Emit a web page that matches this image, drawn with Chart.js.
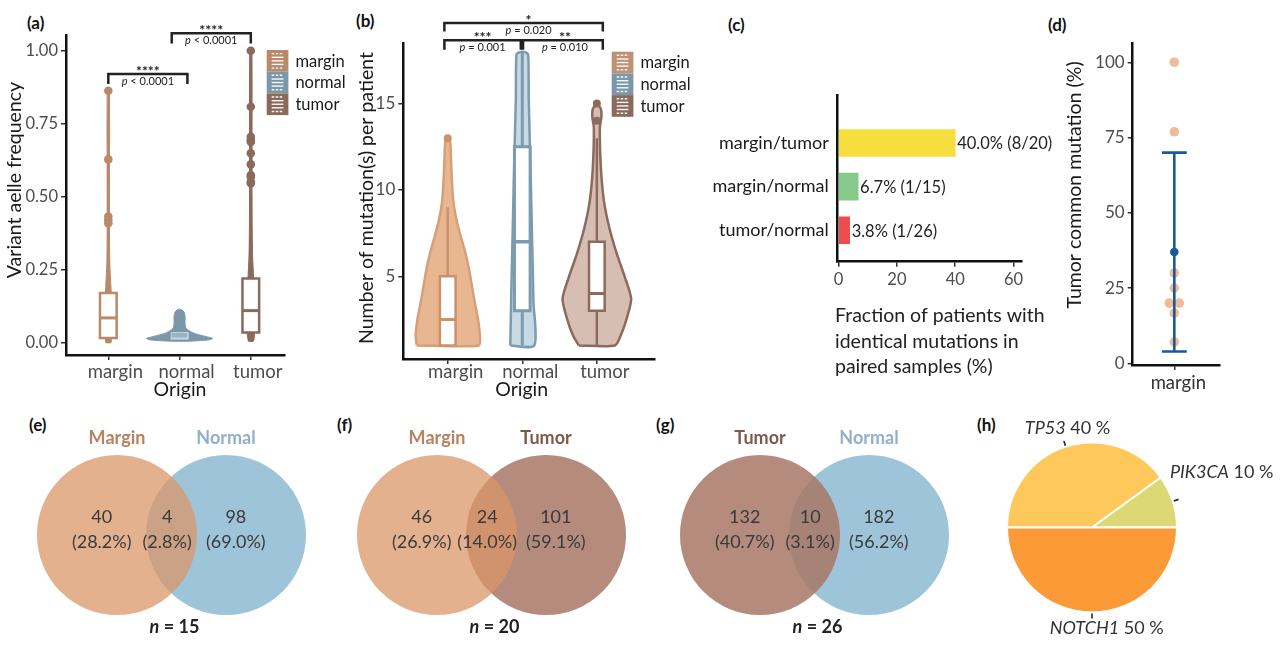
<!DOCTYPE html>
<html>
<head>
<meta charset="utf-8">
<script src="https://cdn.jsdelivr.net/npm/chart.js@4.4.1/dist/chart.umd.min.js"></script>
<style>
  html, body { margin: 0; padding: 0; background: #fff; }
  body { width: 1280px; height: 645px; position: relative; overflow: hidden; font-family: Lato, sans-serif; }
  canvas { position: absolute; }
  .lab { position: absolute; font: bold 17px Lato, sans-serif; line-height: 20px; color: #111; }
</style>
</head>
<body>
<div class="lab" style="left:27px;top:13px">(a)</div>
<div class="lab" style="left:356px;top:11px">(b)</div>
<div class="lab" style="left:728px;top:15px">(c)</div>
<div class="lab" style="left:1048px;top:15px">(d)</div>
<div class="lab" style="left:29px;top:415px">(e)</div>
<div class="lab" style="left:337px;top:415px">(f)</div>
<div class="lab" style="left:656px;top:415px">(g)</div>
<div class="lab" style="left:977px;top:415px">(h)</div>

<canvas id="cA" width="360" height="405" style="left:0;top:0"></canvas>
<canvas id="cB" width="380" height="405" style="left:330px;top:0"></canvas>
<canvas id="cC" width="360" height="405" style="left:710px;top:0"></canvas>
<canvas id="cD" width="240" height="405" style="left:1040px;top:0"></canvas>
<canvas id="cE" width="320" height="235" style="left:0;top:410px"></canvas>
<canvas id="cF" width="320" height="235" style="left:320px;top:410px"></canvas>
<canvas id="cG" width="320" height="235" style="left:643px;top:410px"></canvas>
<canvas id="cH" width="320" height="235" style="left:960px;top:410px"></canvas>

<script>
const groups = ["margin", "normal", "tumor"];

// (a) variant allele frequency: [low whisker, q1, median, q3, high whisker]
const vafBox = [[0.003, 0.016, 0.085, 0.17, 0.40], [0.006, 0.012, 0.016, 0.035, 0.07], [0.005, 0.035, 0.11, 0.22, 0.50]];
const vafOutliers = [
  [0.863, 0.628, 0.432, 0.42, 0.409],
  [],
  [1.0, 0.808, 0.705, 0.694, 0.688, 0.649, 0.611, 0.574, 0.568, 0.551, 0.546]
];
// violin outline: [value, half width in group units]
const vafViolin = [
  [[0, 0.035], [0.015, 0.045], [0.1, 0.055], [0.2, 0.035], [0.27, 0.021], [0.4, 0.016], [0.855, 0.016], [0.862, 0]],
  [[0.005, 0.1], [0.007, 0.27], [0.01, 0.42], [0.015, 0.465], [0.02, 0.39], [0.026, 0.295], [0.032, 0.21], [0.038, 0.155], [0.045, 0.11], [0.053, 0.085], [0.065, 0.077], [0.09, 0.077], [0.105, 0.063], [0.112, 0.035], [0.115, 0]],
  [[0.005, 0.035], [0.03, 0.05], [0.12, 0.056], [0.22, 0.04], [0.3, 0.025], [0.45, 0.018], [0.995, 0.016], [1.0, 0]]
];
const vafSig = [
  {from: 1, to: 2.11, y: 0.92, tip: 0.886, stars: "****", p: "< 0.0001"},
  {from: 1.89, to: 3, y: 1.06, tip: 1.025, stars: "****", p: "< 0.0001"}
];

// (b) mutations per patient
const mutBox = [[1, 1, 2.5, 5, 9], [1, 3, 7, 12.5, 18], [1, 3, 4, 7, 13]];
const mutOutliers = [[13], [], [14, 15]];
const mutViolin = [
  [[1, 0.416], [1.6, 0.43], [2.6, 0.403], [3.5, 0.362], [4.5, 0.322], [5.5, 0.282], [6.5, 0.228], [7.4, 0.168], [8.4, 0.111], [9.4, 0.074], [11, 0.051], [12.5, 0.038], [12.9, 0.027], [13, 0]],
  [[1, 0.161], [3.5, 0.15], [7.4, 0.13], [11.3, 0.11], [15.2, 0.087], [17.8, 0.08], [17.95, 0.054], [18, 0]],
  [[1, 0.242], [1.6, 0.322], [2.6, 0.403], [3.7, 0.46], [4.9, 0.38], [6.3, 0.268], [7.8, 0.168], [9.4, 0.094], [11.3, 0.054], [13.6, 0.04], [14.2, 0.06], [14.7, 0.054], [15, 0]]
];
const mutSig = [
  {from: 0.955, to: 3.08, y: 19.66, tip: 19.18, stars: "*", p: "= 0.020", dx: 5},
  {from: 0.955, to: 1.98, y: 18.66, tip: 18.12, stars: "***", p: "= 0.001"},
  {from: 2.01, to: 3.08, y: 18.66, tip: 18.12, stars: "**", p: "= 0.010", dx: 2}
];

// (c) shared mutations between paired samples
const pairs = ["margin/tumor", "margin/normal", "tumor/normal"];
const pairPct = [40.0, 6.7, 3.8];
const pairShared = [8, 1, 1];
const pairTotal = [20, 15, 26];

// (d) tumor common mutation per patient (%)
const commonPct = [100, 76.9, 30, 25, 20, 20, 16.7, 7.1];
const commonJitter = [0, 0, 0, 0, -0.06, 0.06, 0, 0];

// (e)-(g) Venn counts: [only first, shared, only second]
const vennSets = [["Margin", "Normal"], ["Margin", "Tumor"], ["Tumor", "Normal"]];
const vennCounts = [[40, 4, 98], [46, 24, 101], [132, 10, 182]];
const vennN = [15, 20, 26];

// (h) genes
const genes = ["TP53", "PIK3CA", "NOTCH1"];
const geneShare = [40, 10, 50];

Chart.defaults.font.family = "Lato, sans-serif";
Chart.defaults.animation = false;
Chart.defaults.events = [];
Chart.defaults.plugins.legend.display = false;
Chart.defaults.plugins.tooltip.enabled = false;

const INK = "#1a1a1a", GREY = "#4d4d4d";

function linAxis(o) {
  return {
    type: "linear", min: o.min, max: o.max, reverse: !!o.reverse, offset: false,
    afterBuildTicks: s => { s.ticks = o.ticks.map(v => ({value: v})); },
    afterFit: s => { if (o.w != null) s.width = o.w; if (o.h != null) s.height = o.h; },
    ticks: {callback: o.fmt, color: o.color || GREY, font: {size: o.size || 16.5}, padding: o.pad != null ? o.pad : 3,
      labelOffset: o.off || 0, autoSkip: false, maxRotation: 0},
    grid: {drawOnChartArea: false, offset: false, drawTicks: !o.noTick, tickLength: o.noTick ? 0 : 5, color: "#333", lineWidth: 1.5},
    border: {display: true, color: "#111", width: 2.5}
  };
}

function mixedText(ctx, parts, cx, cy) {
  let w = 0;
  parts.forEach(([t, f]) => { ctx.font = f; w += ctx.measureText(t).width; });
  let xx = cx - w / 2;
  ctx.textAlign = "left";
  parts.forEach(([t, f]) => { ctx.font = f; ctx.fillText(t, xx, cy); xx += ctx.measureText(t).width; });
  ctx.textAlign = "center";
}

function vText(ctx, text, x, y, font) {
  ctx.save();
  ctx.translate(x, y);
  ctx.rotate(-Math.PI / 2);
  ctx.font = font;
  ctx.textAlign = "center";
  ctx.textBaseline = "middle";
  ctx.fillText(text, 0, 0);
  ctx.restore();
}

function violinDatasets(profiles, boxes, outliers, pal, boxHalf, ptR) {
  const out = [];
  profiles.forEach((prof, i) => {
    const c = i + 1, p = pal[i], b = boxes[i];
    const shape = prof.map(([v, w]) => ({x: c - w, y: v}))
      .concat(prof.slice().reverse().map(([v, w]) => ({x: c + w, y: v})));
    shape.push(shape[0]);
    out.push({data: shape, showLine: true, fill: "shape", backgroundColor: p.fill, borderColor: p.line,
      borderWidth: p.vw, pointRadius: 0, tension: 0.25, order: 4});
    out.push({data: [{x: c, y: b[0]}, {x: c, y: b[4]}], showLine: true, borderColor: p.wl || p.box,
      borderWidth: p.bw, pointRadius: 0, order: 3});
    out.push({data: [{x: c - boxHalf, y: b[1]}, {x: c - boxHalf, y: b[3]}, {x: c + boxHalf, y: b[3]},
      {x: c + boxHalf, y: b[1]}, {x: c - boxHalf, y: b[1]}], showLine: true, fill: "shape",
      backgroundColor: p.boxFill, borderColor: p.box, borderWidth: p.bw, borderJoinStyle: "miter",
      borderCapStyle: "square", pointRadius: 0, order: 2});
    out.push({data: [{x: c - boxHalf, y: b[2]}, {x: c + boxHalf, y: b[2]}], showLine: true,
      borderColor: p.box, borderWidth: p.bw + 0.5, pointRadius: 0, order: 1});
    out.push({data: outliers[i].map(v => ({x: c, y: v})), pointRadius: ptR, backgroundColor: p.box,
      borderWidth: 0, order: 0});
  });
  return out;
}

function drawLegend(ctx, x, y, colours) {
  const s = 21.7;
  groups.forEach((lab, i) => {
    const top = y + i * s;
    ctx.fillStyle = colours[i];
    ctx.fillRect(x, top, s, s);
    ctx.strokeStyle = "rgba(255,255,255,0.95)";
    ctx.lineWidth = 1.4;
    ctx.setLineDash([2.5, 1.5]);
    [3.6, s - 3.6].forEach(dy => {
      ctx.beginPath(); ctx.moveTo(x + 5, top + dy); ctx.lineTo(x + s - 5, top + dy); ctx.stroke();
    });
    ctx.setLineDash([]);
    [7.3, 10.85, 14.4].forEach(dy => {
      ctx.beginPath(); ctx.moveTo(x + 5, top + dy); ctx.lineTo(x + s - 5, top + dy); ctx.stroke();
    });
    ctx.fillStyle = INK;
    ctx.font = "16.5px Lato";
    ctx.textAlign = "left";
    ctx.textBaseline = "middle";
    ctx.fillText(lab, x + s + 7, top + s / 2 + 0.5);
  });
}

function violinDecor(o) {
  return {
    id: "violinDecor",
    afterDraw(chart) {
      const {ctx, scales: {x, y}} = chart;
      ctx.save();
      o.sig.forEach(s => {
        const x1 = x.getPixelForValue(s.from), x2 = x.getPixelForValue(s.to);
        const yb = y.getPixelForValue(s.y), yt = y.getPixelForValue(s.tip);
        ctx.strokeStyle = "#222";
        ctx.lineWidth = 2.5;
        ctx.lineJoin = "miter";
        ctx.beginPath();
        ctx.moveTo(x1, yt); ctx.lineTo(x1, yb); ctx.lineTo(x2, yb); ctx.lineTo(x2, yt);
        ctx.stroke();
        const xm = (x1 + x2) / 2 + (s.dx || 0);
        ctx.fillStyle = "#222";
        ctx.textAlign = "center";
        ctx.textBaseline = "alphabetic";
        ctx.font = "bold 14px Lato";
        ctx.fillText(s.stars, xm, yb + 2);
        ctx.textBaseline = "middle";
        mixedText(ctx, [["p", "italic 11px Lato"], [" " + s.p, "11px Lato"]], xm, yb + 7.5);
      });
      drawLegend(ctx, o.legendAt[0], o.legendAt[1], o.legendFill);
      ctx.fillStyle = INK;
      ctx.font = "19.5px Lato";
      ctx.textAlign = "center";
      ctx.textBaseline = "middle";
      ctx.fillText("Origin", o.xTitleAt[0], o.xTitleAt[1]);
      vText(ctx, o.yTitle, o.yTitleAt[0], o.yTitleAt[1], "19.5px Lato");
      ctx.restore();
    }
  };
}

// (a)
const palA = [
  {fill: "#b8896a", line: "#b8896a", vw: 1, box: "#b8896a", boxFill: "#fff", bw: 2.5},
  {fill: "#7a98aa", line: "#7a98aa", vw: 1, box: "rgba(205,218,226,0.85)", wl: "#7a98aa", boxFill: "rgba(255,255,255,0.25)", bw: 1},
  {fill: "#8b6a5c", line: "#8b6a5c", vw: 1, box: "#8b6a5c", boxFill: "#fff", bw: 2.5}
];
new Chart(document.getElementById("cA"), {
  type: "scatter",
  data: {datasets: violinDatasets(vafViolin, vafBox, vafOutliers, palA, 0.117, 4.3)},
  options: {
    responsive: false,
    layout: {padding: {left: 0, top: 35, right: 360 - 285, bottom: 0}},
    scales: {
      x: linAxis({min: 0.406, max: 3.48, ticks: [1, 2, 3], fmt: v => groups[v - 1], size: 18.5, pad: 1, off: 7, h: 405 - 355}),
      y: linAxis({min: -0.042, max: 1.054, ticks: [0, 0.25, 0.5, 0.75, 1], fmt: v => v.toFixed(2), w: 66})
    }
  },
  plugins: [violinDecor({sig: vafSig, legendAt: [266.7, 50], legendFill: ["#b8896a", "#7b98aa", "#8b6a5c"],
    xTitleAt: [180, 390], yTitle: "Variant aelle frequency", yTitleAt: [15, 180]})]
});

// (b)
const palB = [
  {fill: "#e8b690", line: "#d5a079", vw: 2.5, box: "#c9926a", boxFill: "#fff", bw: 2.5},
  {fill: "#c6d9e4", line: "#7c9bb0", vw: 2.5, box: "#7c9bb0", boxFill: "#fff", bw: 3},
  {fill: "#d6beb4", line: "#8c6a5c", vw: 2.5, box: "#8c6a5c", boxFill: "#fff", bw: 2.5}
];
new Chart(document.getElementById("cB"), {
  type: "scatter",
  data: {datasets: violinDatasets(mutViolin, mutBox, mutOutliers, palB, 0.105, 4)},
  options: {
    responsive: false,
    layout: {padding: {left: 0, top: 43.3, right: 380 - 325, bottom: 0}},
    scales: {
      x: linAxis({min: 0.404, max: 3.78, ticks: [1, 2, 3], fmt: v => groups[v - 1], size: 18.5, pad: -3, off: 8, h: 405 - 359}),
      y: linAxis({min: 0.214, max: 18.49, ticks: [5, 10, 15], fmt: v => v, size: 17, w: 73.3})
    }
  },
  plugins: [violinDecor({sig: mutSig, legendAt: [281.7, 51.7], legendFill: ["#be9172", "#7b98aa", "#8b6a5c"],
    xTitleAt: [191.7, 390], yTitle: "Number of mutation(s) per patient", yTitleAt: [36.7, 198]})]
});

// (c)
const pairDecor = {
  id: "pairDecor",
  afterDatasetsDraw(chart) {
    const ctx = chart.ctx, meta = chart.getDatasetMeta(0);
    ctx.save();
    ctx.fillStyle = "#222";
    ctx.textBaseline = "middle";
    ctx.textAlign = "left";
    ctx.font = "16.5px Lato";
    meta.data.forEach((bar, i) => {
      ctx.fillText(pairPct[i].toFixed(1) + "% (" + pairShared[i] + "/" + pairTotal[i] + ")", bar.x + 2, bar.y + 1);
    });
    ctx.font = "19.5px Lato";
    ["Fraction of patients with", "identical mutations in", "paired samples (%)"].forEach((t, i) => {
      ctx.fillText(t, 125, 316 + i * 25.3);
    });
    ctx.restore();
  }
};
new Chart(document.getElementById("cC"), {
  type: "bar",
  data: {datasets: [{data: pairPct.map((v, i) => ({x: v, y: i})), backgroundColor: ["#f5de3d", "#86c98d", "#ee4d4d"],
    barThickness: 27, borderWidth: 0}]},
  options: {
    indexAxis: "y",
    responsive: false,
    layout: {padding: {left: 0, top: 95, right: 360 - 311.7, bottom: 0}},
    scales: {
      x: linAxis({min: -0.3, max: 62.8, ticks: [0, 20, 40, 60], fmt: v => v, size: 16.5, h: 405 - 261.7}),
      y: linAxis({min: -1.1, max: 2.72, reverse: true, ticks: [0, 1, 2], fmt: v => pairs[v], size: 18, color: INK, noTick: true, pad: 9, w: 127.7})
    }
  },
  plugins: [pairDecor]
});

// (d)
const cMean = commonPct.reduce((a, b) => a + b, 0) / commonPct.length;
const cSd = Math.sqrt(commonPct.reduce((a, b) => a + (b - cMean) * (b - cMean), 0) / (commonPct.length - 1));
const errLow = cMean - cSd, errHigh = cMean + cSd;
const capHalf = 0.15, BLUE = "#1b5a96";
new Chart(document.getElementById("cD"), {
  type: "scatter",
  data: {datasets: [
    {data: commonPct.map((v, i) => ({x: 1 + commonJitter[i], y: v})), pointRadius: 4.8, backgroundColor: "#efbc9a", borderWidth: 0, order: 3},
    {data: [{x: 1, y: errLow}, {x: 1, y: errHigh}], showLine: true, borderColor: BLUE, borderWidth: 2.6, pointRadius: 0, order: 2},
    {data: [{x: 1 - capHalf, y: errHigh}, {x: 1 + capHalf, y: errHigh}], showLine: true, borderColor: BLUE, borderWidth: 2.6, pointRadius: 0, order: 1},
    {data: [{x: 1 - capHalf, y: errLow}, {x: 1 + capHalf, y: errLow}], showLine: true, borderColor: BLUE, borderWidth: 2.6, pointRadius: 0, order: 1},
    {data: [{x: 1, y: cMean}], pointRadius: 4.3, backgroundColor: BLUE, borderWidth: 0, order: 0}
  ]},
  options: {
    responsive: false,
    layout: {padding: {left: 0, top: 43.3, right: 240 - 180, bottom: 0}},
    scales: {
      x: linAxis({min: 0.5, max: 1.549, ticks: [1], fmt: () => "margin", size: 18.5, color: "#333", pad: 2, off: 4, h: 405 - 365}),
      y: linAxis({min: -0.56, max: 106.3, ticks: [0, 25, 50, 75, 100], fmt: v => v, size: 17, w: 92.7})
    }
  },
  plugins: [{
    id: "dTitle",
    afterDraw(chart) {
      chart.ctx.save();
      chart.ctx.fillStyle = INK;
      vText(chart.ctx, "Tumor common mutation (%)", 35, 185, "19.5px Lato");
      chart.ctx.restore();
    }
  }]
});

// (e)-(g) Venn diagrams
const setInk = {Margin: "#b9825e", Normal: "#8fb1c9", Tumor: "#7d5a4c"};
const setTop = {Margin: "rgba(218,150,104,0.74)", Tumor: "rgba(167,119,101,0.85)"};
const setBase = {Normal: "#9ec4d9", Tumor: "#b48b7c"};
const regionAt = [-0.14, 0.46, 1.09];
function vennText(k) {
  return {
    id: "vennText",
    afterDatasetsDraw(chart) {
      const {ctx, scales: {x}} = chart;
      const names = vennSets[k], counts = vennCounts[k];
      const total = counts.reduce((a, b) => a + b, 0);
      ctx.save();
      ctx.textAlign = "center";
      ctx.textBaseline = "middle";
      ctx.font = "bold 18px Lato";
      names.forEach((nm, i) => { ctx.fillStyle = setInk[nm]; ctx.fillText(nm, x.getPixelForValue(i), 28); });
      ctx.font = "18px Lato";
      ctx.fillStyle = "#3a3a3a";
      counts.forEach((c, j) => {
        const px = x.getPixelForValue(regionAt[j]);
        ctx.fillText(String(c), px, 106.7);
        ctx.fillText("(" + (100 * c / total).toFixed(1) + "%)", px, 131.7);
      });
      ctx.fillStyle = "#222";
      mixedText(ctx, [["n", "bold italic 18px Lato"], [" = " + vennN[k], "bold 18px Lato"]], x.getPixelForValue(0.5) + 3, 217);
      ctx.restore();
    }
  };
}
["cE", "cF", "cG"].forEach((id, k) => {
  const [left, right] = vennSets[k];
  new Chart(document.getElementById(id), {
    type: "bubble",
    data: {datasets: [
      {data: [{x: 0, y: 0}], radius: 80, backgroundColor: setTop[left], borderWidth: 0, clip: false, order: 0},
      {data: [{x: 1, y: 0}], radius: 80, backgroundColor: setBase[right], borderWidth: 0, clip: false, order: 1}
    ]},
    options: {
      responsive: false,
      layout: {padding: 0, autoPadding: false},
      scales: {x: {display: false, min: -1.073, max: 1.862}, y: {display: false, min: -1, max: 1.136}}
    },
    plugins: [vennText(k)]
  });
});

// (h) pie
const pieLabelAt = [[-24.5, -99], [129.7, -55.3], [14.7, 101]];
new Chart(document.getElementById("cH"), {
  type: "pie",
  data: {labels: genes, datasets: [{data: geneShare, backgroundColor: ["#fec95a", "#dcd873", "#fd9a38"],
    borderColor: "#fff", borderWidth: 2}]},
  options: {responsive: false, radius: 85, rotation: -90, layout: {padding: {right: 56}}},
  plugins: [{
    id: "pieLabels",
    afterDatasetsDraw(chart) {
      const ctx = chart.ctx, meta = chart.getDatasetMeta(0);
      ctx.save();
      ctx.strokeStyle = "#222";
      ctx.lineWidth = 1.6;
      ctx.fillStyle = "#333";
      ctx.textBaseline = "middle";
      meta.data.forEach((arc, i) => {
        const mid = (arc.startAngle + arc.endAngle) / 2, r = arc.outerRadius;
        ctx.beginPath();
        ctx.moveTo(arc.x + Math.cos(mid) * (r + 1), arc.y + Math.sin(mid) * (r + 1));
        ctx.lineTo(arc.x + Math.cos(mid) * (r + 6), arc.y + Math.sin(mid) * (r + 6));
        ctx.stroke();
        const [dx, dy] = pieLabelAt[i];
        mixedText(ctx, [[genes[i], "italic 18px Lato"], [" " + geneShare[i] + " %", "18px Lato"]], arc.x + dx, arc.y + dy);
      });
      ctx.restore();
    }
  }]
});
</script>
</body>
</html>
